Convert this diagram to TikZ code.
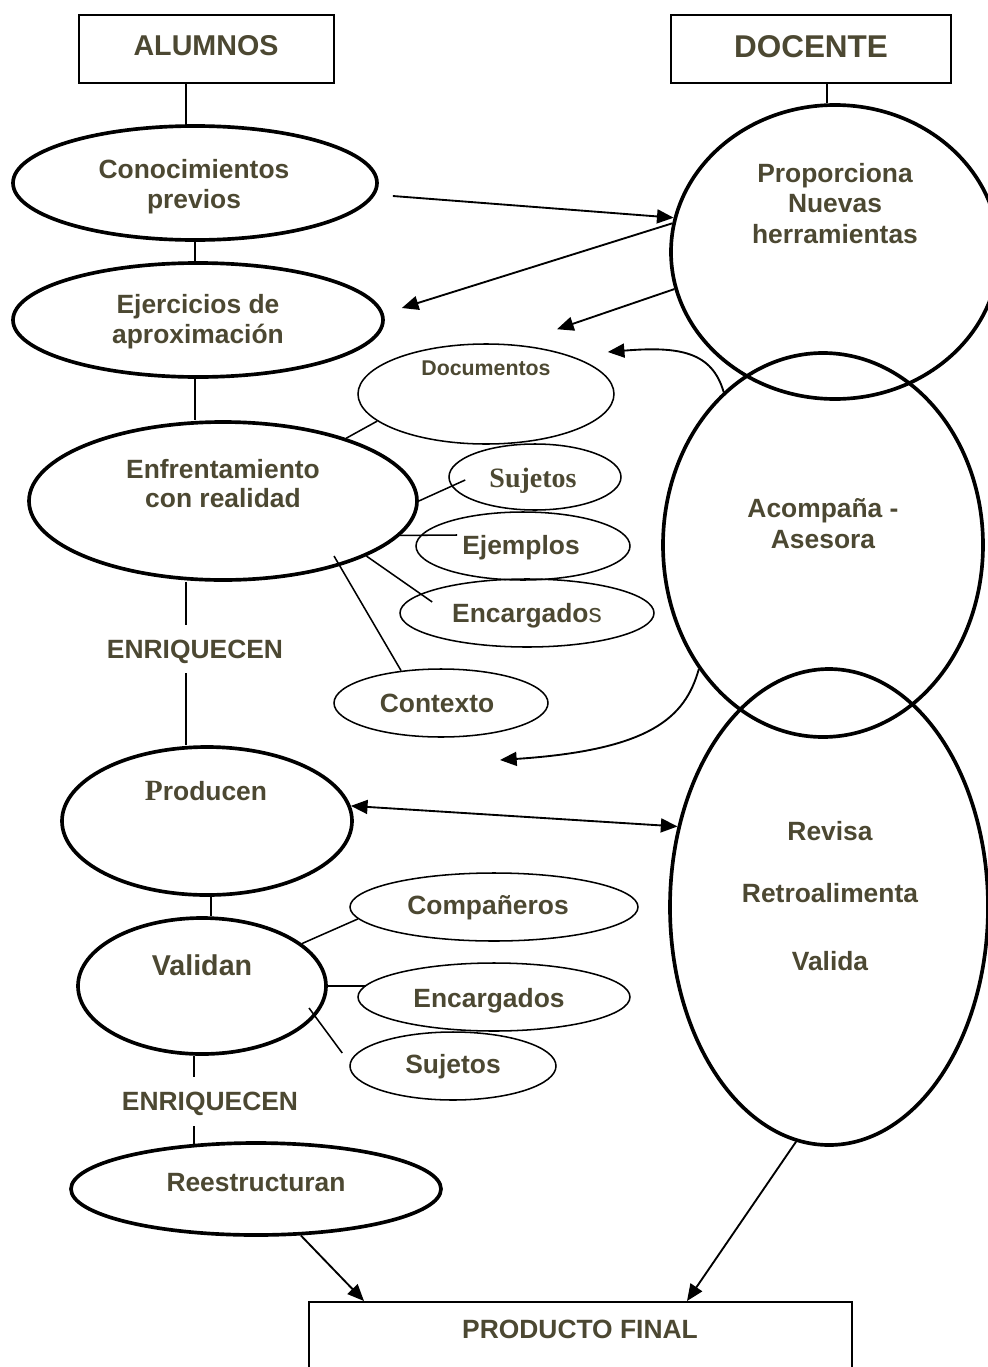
\documentclass[tikz,border=0pt]{standalone}
\usepackage{fontspec}
\setmainfont{Liberation Sans}
\newfontfamily\serifb{Liberation Serif}
\usetikzlibrary{shapes.geometric,arrows.meta,calc}
\definecolor{ink}{RGB}{76,72,50}
\begin{document}
\begin{tikzpicture}[x=0.75pt,y=-0.75pt,
  lbl/.style={font=\fontsize{19.8}{23}\selectfont\bfseries, text=ink, inner sep=0pt, anchor=base},
  ell/.style 2 args={ellipse, draw, inner sep=0pt, minimum width=#1*1.5pt, minimum height=#2*1.5pt},
  thickell/.style={line width=2.75pt},
  thinell/.style={line width=1.15pt},
  box/.style={rectangle, draw, line width=1.5pt, inner sep=0pt},
  conn/.style={line width=1.4pt},
  conna/.style={line width=1.15pt},
  arr/.style={line width=1.4pt, -{Triangle[length=12.5pt,width=10.5pt]}},
  darr/.style={line width=1.4pt, {Triangle[length=12.5pt,width=10.5pt]}-{Triangle[length=12.5pt,width=10.5pt]}},
]
\useasboundingbox (0,0) rectangle (988,1367);

% header boxes
\node[box, minimum width=191.25pt, minimum height=51pt] (alum) at (206.5,49) {};
\node[lbl, font=\fontsize{21.5}{24}\selectfont\bfseries] (alumt) at (206,55) {ALUMNOS};
\node[box, minimum width=210pt, minimum height=51pt] (doce) at (811,49) {};
\node[lbl, font=\fontsize{23.6}{26}\selectfont\bfseries] (docet) at (811,57) {DOCENTE};

% left column ellipses
\node[ell={182}{57}, thickell] (cono) at (195,183) {};
\node[lbl] (cono1) at (194,178) {Conocimientos};
\node[lbl] (cono2) at (194,208) {previos};

\node[ell={185}{57}, thickell] (ejer) at (198,320) {};
\node[lbl] (ejer1) at (198,313) {Ejercicios de};
\node[lbl] (ejer2) at (198,343) {aproximación};

\node[ell={194}{79}, thickell] (enf) at (223,501) {};
\node[lbl] (enf1) at (223,478) {Enfrentamiento};
\node[lbl] (enf2) at (223,507) {con realidad};

\node[lbl] (enr1) at (195,658) {ENRIQUECEN};

\node[ell={145}{74}, thickell] (prod) at (207,821) {};
\node[lbl] (prodt) at (206,800) {{\serifb\fontsize{22}{24}\selectfont P}roducen};

\node[ell={124}{68}, thickell] (vali) at (202,986) {};
\node[lbl, font=\fontsize{21.5}{24}\selectfont\bfseries] (valit) at (202,975) {Validan};

\node[lbl] (enr2) at (210,1110) {ENRIQUECEN};

\node[ell={185}{46}, thickell] (rees) at (256,1189) {};
\node[lbl] (reest) at (256,1191) {Reestructuran};

% small ellipses
\node[ell={128}{50}, thinell] (docu) at (486,394) {};
\node[lbl, font=\fontsize{16}{18}\selectfont\bfseries] (docut) at (486,375) {Documentos};

\node[ell={86}{33}, thinell] (suj1) at (535,477) {};
\node[lbl, font=\fontsize{21}{23}\selectfont\bfseries\serifb] (suj1t) at (533,487) {Sujetos};

\node[ell={107}{34}, thinell] (ejem) at (523,546) {};
\node[lbl] (ejemt) at (521,554) {Ejemplos};

\node[ell={127}{34}, thinell] (enc1) at (527,613) {};
\node[lbl] (enc1t) at (527,622) {Encargado{\mdseries s}};

\node[ell={107}{34}, thinell] (cont) at (441,703) {};
\node[lbl] (contt) at (437,712) {Contexto};

\node[ell={144}{34}, thinell] (comp) at (494,907) {};
\node[lbl] (compt) at (488,914) {Compañeros};

\node[ell={136}{34}, thinell] (enc2) at (494,997) {};
\node[lbl] (enc2t) at (489,1007) {Encargados};

\node[ell={103}{34}, thinell] (suj2) at (453,1066) {};
\node[lbl] (suj2t) at (453,1073) {Sujetos};

% right column
\node[ell={164}{147}, thickell] (prop) at (835,252) {};
\node[lbl] (prop1) at (835,182) {Proporciona};
\node[lbl] (prop2) at (835,212) {Nuevas};
\node[lbl] (prop3) at (835,243) {herramientas};

\node[ell={160}{192}, thickell] (acom) at (823,545) {};
\node[lbl] (acom1) at (823,517) {Acompaña -};
\node[lbl] (acom2) at (823,548) {Asesora};

\node[ell={159}{238}, thickell] (revi) at (829,907) {};
\node[lbl] (revi1) at (830,840) {Revisa};
\node[lbl] (revi2) at (830,902) {Retroalimenta};
\node[lbl] (revi3) at (830,970) {Valida};

% final box
\node[box, minimum width=407.25pt, minimum height=58.5pt] (final) at (580.5,1341) {};
\node[lbl] (finalt) at (580,1338) {PRODUCTO FINAL};

% vertical connectors
\draw[conn] ([xshift=-15.4pt]alum.south) -- ([xshift=-15.4pt]alum.south |- cono.north);
\draw[conn] ([xshift=12pt]doce.south) -- ([xshift=12pt]doce.south |- prop.north);
\draw[conn] (cono.south) -- (cono.south |- ejer.north);
\draw[conn] (ejer.south -| cono.south) -- (cono.south |- enf.north);
\draw[conn] ([xshift=-6.75pt]enr1.north |- enf.south) -- ([xshift=-6.75pt,yshift=10.5pt]enr1.north);
\draw[conn] ([xshift=-6.75pt,yshift=-7.5pt]enr1.south) -- ([xshift=-6.75pt]enr1.south |- prod.north);
\draw[conn] ([xshift=3pt]prod.south) -- ([xshift=3pt]prod.south |- vali.north);
\draw[conn] ([xshift=-12pt]enr2.north |- vali.south) -- ([xshift=-12pt,yshift=10.5pt]enr2.north);
\draw[conn] ([xshift=-12pt,yshift=-8.25pt]enr2.south) -- ([xshift=-12pt,yshift=-2.25pt]enr2.south |- rees.north);

% small connectors
\draw[conna] (enf.27) -- (docu.194);
\draw[conna] (enf.east) -- ([xshift=12.75pt,yshift=-2.25pt]suj1.west);
\draw[conna] (enf.-11) -- ([xshift=31.5pt,yshift=8.25pt]ejem.west);
\draw[conna] (enf.-21) -- ([xshift=24.75pt,yshift=8.25pt]enc1.west);
\draw[conna] ([xshift=83.25pt,yshift=-41.25pt]enf.center) -- (cont.141);
\draw[conna] (vali.23) -- (comp.185);
\draw[conna] (vali.east) -- ([xshift=6.75pt,yshift=8.25pt]enc2.west);
\draw[conna] ([xshift=80.25pt,yshift=-16.5pt]vali.center) -- ([xshift=-5.25pt,yshift=9.75pt]suj2.west);

% arrows
\draw[arr] ([xshift=10.5pt,yshift=-9.75pt]cono.east) -- (prop.168);
\draw[arr] (prop.170) -- ([xshift=12.75pt,yshift=9pt]ejer.east);
\draw[arr] (prop.193) -- ([xshift=53.25pt,yshift=10.5pt]docu.north);
\draw[arr] (acom.123) .. controls (712,352) and (680,346) .. ([xshift=-5.25pt,yshift=31.5pt]docu.east);
\coordinate (free) at (500,760);
\draw[arr] (acom.225) .. controls (685,718) and (650,750) .. (free);
\draw[darr] (prod.6) -- (revi.152);
\draw[arr] (rees.-46) -- ([xshift=42pt]final.north west);
\draw[arr] (revi.262) -- ([xshift=284.25pt]final.north west);
\end{tikzpicture}
\end{document}
